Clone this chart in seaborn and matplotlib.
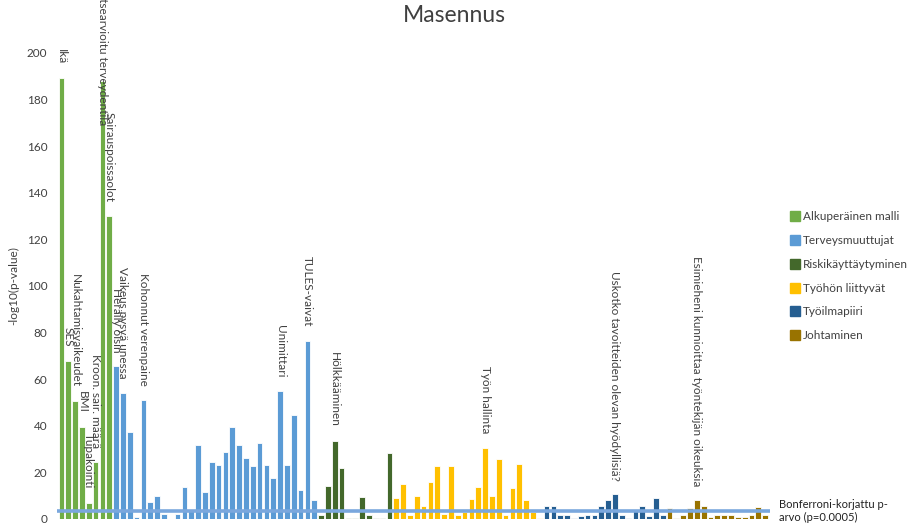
import numpy as np
import pandas as pd
import matplotlib
matplotlib.use("Agg")
import matplotlib.pyplot as plt
from matplotlib.lines import Line2D
import seaborn as sns

# -log10(p) per variable, grouped by model block
groups = ["Alkuperäinen malli", "Terveysmuuttujat", "Riskikäyttäytyminen",
          "Työhön liittyvät", "Työilmapiiri", "Johtaminen"]
colors = ["#70ad47", "#5b9bd5", "#43682b", "#ffc000", "#255e91", "#997300"]

alkuperainen = [189.4, 68.0, 50.6, 39.6, 7.0, 24.3, 188.0, 130.0]
terveys = [65.6, 54.2, 37.3, 1.0, 51.0, 7.4, 9.9, 2.0, 0.0, 2.0, 13.6, 3.4,
           31.8, 11.7, 24.5, 23.2, 28.8, 39.6, 31.8, 26.2, 22.6, 32.5, 23.2,
           17.7, 54.8, 23.2, 44.6, 12.3, 76.5, 8.2]
riski = [1.5, 14.2, 33.6, 22.0, 0.4, 0.4, 9.3, 1.7, 0.4, 0.4, 28.2]
tyo = [8.9, 14.9, 1.7, 10.0, 5.7, 16.0, 22.7, 2.0, 22.7, 1.7, 3.1, 8.4, 13.6,
       30.6, 10.0, 25.7, 1.7, 13.2, 23.5, 8.2, 3.1, 0.5]
ilmapiiri = [5.7, 5.7, 1.7, 1.7, 0.3, 1.2, 1.7, 1.7, 5.7, 8.2, 10.6, 1.7, 0.3,
             3.4, 5.7, 1.2, 8.9, 1.7]
johtaminen = [4.6, 0.3, 1.7, 4.6, 8.2, 5.7, 0.7, 1.7, 1.7, 1.7, 0.7, 0.7,
              1.7, 5.0, 1.7]

# Named variables (position within its block -> name)
labels_alkuperainen = {0: "Ikä", 1: "SES", 2: "Nukahtamisvaikeudet", 3: "BMI",
                       4: "Tupakointi", 5: "Kroon. sair. määrä",
                       6: "Itsearvioitu terveydentila", 7: "Sairauspoissaolot"}
labels_terveys = {0: "Heräily öisin", 1: "Vaikeus pysyä unessa",
                  4: "Kohonnut verenpaine", 24: "Unimittari", 28: "TULES-vaivat"}
labels_riski = {2: "Hölkkääminen"}
labels_tyo = {13: "Työn hallinta"}
labels_ilmapiiri = {10: "Uskotko tavoitteiden olevan hyödyllisiä?"}
labels_johtaminen = {4: "Esimieheni kunnioittaa työntekijän oikeuksia"}

bonferroni_p = 0.0005
yticks = list(range(0, 201, 20))

blocks = [alkuperainen, terveys, riski, tyo, ilmapiiri, johtaminen]
block_labels = [labels_alkuperainen, labels_terveys, labels_riski, labels_tyo,
                labels_ilmapiiri, labels_johtaminen]

rows = []
names = []
for g, vals, labs in zip(groups, blocks, block_labels):
    for i, v in enumerate(vals):
        rows.append((g, v))
        names.append(labs.get(i, ""))
df = pd.DataFrame(rows, columns=["ryhma", "arvo"])
df["nro"] = np.arange(len(df))

sns.set_theme(style="white")
plt.rcParams["font.family"] = ["Lato", "DejaVu Sans"]
txt = "#404040"

fig = plt.figure(figsize=(9.15, 5.30), dpi=100)
ax = fig.add_axes([0.0623, 0.0208, 0.7792, 0.8792])

sns.barplot(data=df, x="nro", y="arvo", hue="ryhma", hue_order=groups,
            palette=colors, saturation=1, dodge=False, width=0.84,
            edgecolor="white", linewidth=0.6, legend=False, ax=ax)

n = len(df)
ax.set_xlim(-0.65, n - 0.3)
ax.set_ylim(0, 200)
ax.set_yticks(yticks)
ax.set_yticklabels([str(t) for t in yticks], fontsize=8.5, color=txt)
ax.set_xticks([])
ax.set_xlabel("")
ax.set_ylabel("-log10(p-value)", fontsize=8.5, color=txt, labelpad=5)
ax.tick_params(axis="y", length=0, pad=7)
for s in ax.spines.values():
    s.set_visible(False)

# Bonferroni threshold
thr = -np.log10(bonferroni_p)
ax.axhline(thr, color="#7aa7dd", lw=2.6, zorder=5)
ax.text(1.012, thr, "Bonferroni-korjattu p-\narvo (p=0.0005)",
        transform=ax.get_yaxis_transform(), fontsize=8, color="#222222",
        va="center", ha="left", linespacing=1.2)

# Variable names above their bars, reading top to bottom
for x, (v, name) in enumerate(zip(df["arvo"], names)):
    if not name:
        continue
    if name == "Itsearvioitu terveydentila":
        ax.text(x, 169, name, rotation=270, ha="center", va="bottom",
                fontsize=8.5, color=txt, clip_on=False, zorder=6)
    else:
        ax.annotate(name, (x, v), xytext=(0, 10), textcoords="offset points",
                    rotation=270, ha="center", va="bottom", fontsize=8.5,
                    color=txt, annotation_clip=False, zorder=6)

fig.suptitle("Masennus", x=0.497, y=0.99, fontsize=16.5, color="#404040")

handles = [Line2D([], [], marker="s", ls="", markersize=6.5,
                  markerfacecolor=c, markeredgecolor=c) for c in colors]
fig.legend(handles, groups, loc="upper left", bbox_to_anchor=(0.859, 0.61),
           frameon=False, fontsize=8.5, labelspacing=1.08, handletextpad=0.2,
           handlelength=0.8, labelcolor=txt, borderaxespad=0)

fig.savefig("out.png", dpi=100)
